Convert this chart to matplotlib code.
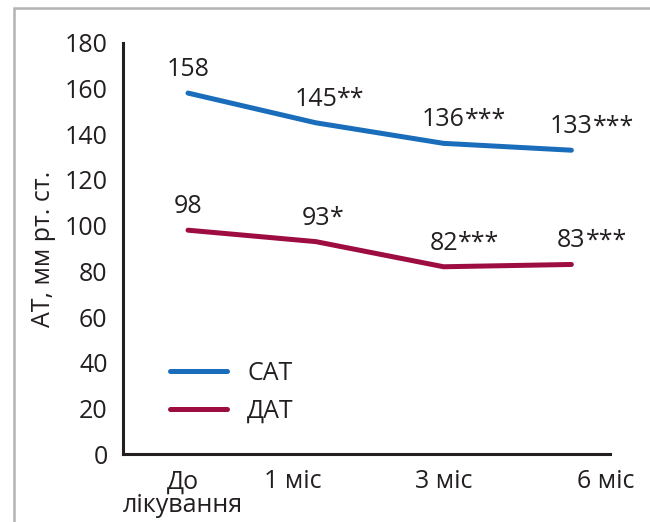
import matplotlib

matplotlib.use("Agg")
import matplotlib.pyplot as plt
from matplotlib.patches import Rectangle

categories = ["До\nлікування", "1 міс", "3 міс", "6 міс"]
sat = [158, 145, 136, 133]
dat = [98, 93, 82, 83]
sat_stars = ["", "**", "***", "***"]
dat_stars = ["", "*", "***", "***"]
yticks = [0, 20, 40, 60, 80, 100, 120, 140, 160, 180]

BLUE = "#1a6dba"
RED = "#9e0d41"
FONT = "Open Sans"
FS = 18

plt.rcParams["font.family"] = [FONT, "DejaVu Sans"]

fig = plt.figure(figsize=(6.5, 5.22), dpi=100)
fig.patches.append(Rectangle((0.022, -0.1), 1.1, 1.085, transform=fig.transFigure,
                             fill=False, edgecolor="#b3b3b3", lw=1.8))
ax = fig.add_axes([0.189, 0.130, 0.749, 0.788])

x = list(range(len(categories)))
ax.plot(x, sat, color=BLUE, lw=3.6, solid_capstyle="round", label="САТ")
ax.plot(x, dat, color=RED, lw=3.6, solid_capstyle="round", label="ДАТ")

for xs, vals, stars in [(x, sat, sat_stars), (x, dat, dat_stars)]:
    for xi, v, st in zip(xs, vals, stars):
        t = ax.annotate(str(v), (xi, v), xytext=(0, 8), textcoords="offset points",
                        ha="center", va="bottom", fontsize=FS, color="#231f20")
        if st:
            ax.annotate(st, xy=(1, 0), xycoords=t, ha="left", va="bottom",
                        fontsize=FS, color="#231f20")

ax.set_xlim(-0.51, 3.30)
ax.set_ylim(0, 180)
ax.set_yticks(yticks)
ax.set_xticks([-0.04, 0.82, 2.0, 3.27])
ax.set_xticklabels(categories, fontsize=FS, color="#231f20", va="top",
                   linespacing=0.9)
ax.tick_params(axis="y", length=0, pad=11, labelsize=FS, labelcolor="#231f20")
ax.tick_params(axis="x", length=0, pad=11)
for sp in ["top", "right"]:
    ax.spines[sp].set_visible(False)
for sp in ["left", "bottom"]:
    ax.spines[sp].set_linewidth(2.2)
    ax.spines[sp].set_color("#231f20")
ax.set_ylabel("АТ, мм рт. ст.", fontsize=FS, color="#231f20", labelpad=6)

ax.legend(loc="lower left", bbox_to_anchor=(0.05, 0.02), frameon=False,
          fontsize=FS, handlelength=2.3, handletextpad=0.8, labelspacing=0.5,
          labelcolor="#231f20")

fig.savefig("out.png", dpi=100)
